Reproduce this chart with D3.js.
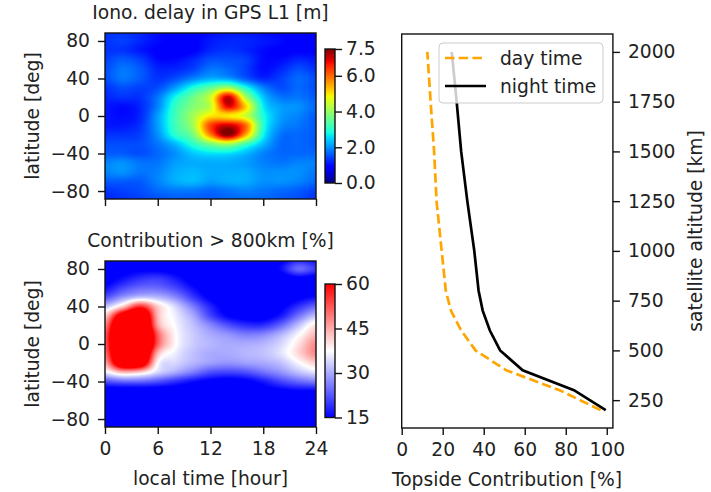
<!DOCTYPE html>
<html>
<head>
<meta charset="utf-8">
<script src="https://cdn.jsdelivr.net/npm/d3@7"></script>
<style>
  body { margin: 0; background: #ffffff; }
  svg text { font-family: "DejaVu Sans", sans-serif; fill: #222222; }
</style>
</head>
<body>
<svg id="fig" width="711" height="492"></svg>
<script>
// ---------------- data ----------------
const localTimeHours = [0, 2, 4, 6, 8, 10, 12, 14, 16, 18, 20, 22, 24];
const latitudeRows = [90, 80, 70, 60, 50, 40, 30, 20, 10, 0, -10, -20, -30, -40, -50, -60, -70, -80, -90];

// ionospheric delay in GPS L1 [m], rows follow latitudeRows, columns follow localTimeHours
const ionoDelay = [
  [1.3, 1.3, 1.2, 1.0, 0.9, 0.9, 1.0, 1.1, 1.1, 1.0, 0.9, 0.8, 0.8],
  [1.3, 1.4, 1.2, 1.0, 0.9, 0.9, 1.1, 1.2, 1.2, 1.1, 1.0, 0.8, 0.8],
  [1.3, 1.3, 1.1, 0.9, 0.8, 0.9, 1.2, 1.3, 1.2, 1.0, 0.9, 0.9, 0.9],
  [1.4, 1.6, 1.4, 1.0, 1.0, 1.2, 1.5, 1.5, 1.4, 1.0, 1.0, 1.2, 1.1],
  [1.5, 1.8, 1.6, 1.2, 1.2, 1.4, 1.8, 1.7, 1.4, 1.0, 1.2, 1.5, 1.3],
  [1.5, 1.8, 1.6, 1.3, 1.5, 1.9, 2.2, 2.1, 1.6, 1.2, 1.4, 1.7, 1.5],
  [1.3, 1.5, 1.4, 1.5, 2.1, 2.9, 3.5, 4.1, 2.9, 1.9, 1.5, 1.7, 1.5],
  [1.2, 1.3, 1.3, 1.8, 2.8, 3.6, 4.5, 7.0, 4.2, 2.4, 1.8, 1.8, 1.6],
  [1.1, 1.0, 1.2, 1.9, 3.1, 3.8, 4.4, 6.8, 5.2, 2.7, 2.1, 2.0, 1.7],
  [1.1, 1.0, 1.2, 2.1, 3.2, 4.1, 5.0, 5.0, 4.5, 2.9, 2.1, 1.9, 1.6],
  [1.1, 1.1, 1.3, 2.1, 3.2, 4.1, 6.3, 7.0, 6.0, 3.0, 2.0, 1.8, 1.6],
  [1.3, 1.3, 1.4, 2.0, 3.0, 3.7, 5.8, 7.5, 5.5, 2.8, 1.8, 1.7, 1.6],
  [1.5, 1.5, 1.5, 1.8, 2.3, 3.0, 3.7, 4.1, 3.2, 2.3, 1.7, 1.7, 1.6],
  [1.6, 1.6, 1.5, 1.7, 2.0, 2.4, 2.6, 2.6, 2.3, 1.9, 1.7, 1.7, 1.7],
  [1.9, 2.0, 1.8, 1.8, 2.1, 2.2, 2.2, 2.2, 2.1, 1.9, 1.8, 1.9, 1.9],
  [1.9, 2.0, 1.8, 1.9, 2.2, 2.3, 2.2, 2.2, 2.2, 2.0, 2.0, 2.0, 1.8],
  [1.6, 1.6, 1.6, 1.9, 2.2, 2.3, 2.1, 2.2, 2.2, 2.0, 2.0, 1.9, 1.7],
  [1.3, 1.4, 1.5, 1.7, 1.8, 1.8, 1.7, 1.8, 1.9, 1.8, 1.7, 1.6, 1.4],
  [1.2, 1.3, 1.4, 1.5, 1.6, 1.6, 1.6, 1.7, 1.7, 1.7, 1.6, 1.5, 1.3]
];

// share of the delay above 800 km [%], same grid
const topsideShare = [
  [12, 12, 12, 12, 12, 12, 12, 12, 12, 12, 14, 18, 16],
  [12, 13, 14, 14, 13, 12, 12, 12, 12, 12, 16, 24, 20],
  [13, 16, 19, 20, 17, 13, 12, 12, 12, 12, 12, 14, 13],
  [16, 21, 24, 24, 21, 16, 12, 12, 12, 12, 12, 12, 12],
  [22, 28, 32, 31, 27, 20, 14, 12, 12, 12, 12, 14, 16],
  [32, 42, 56, 42, 34, 26, 18, 13, 12, 12, 14, 19, 24],
  [42, 68, 78, 44, 36, 30, 21, 15, 13, 13, 17, 25, 32],
  [48, 82, 84, 46, 37, 32, 27, 22, 19, 19, 24, 32, 40],
  [52, 86, 88, 52, 38, 33, 30, 28, 26, 27, 31, 37, 44],
  [52, 86, 88, 52, 38, 33, 31, 30, 30, 31, 34, 40, 48],
  [50, 82, 82, 44, 36, 32, 30, 30, 31, 32, 35, 41, 48],
  [45, 74, 72, 38, 34, 31, 29, 28, 29, 30, 32, 37, 42],
  [36, 44, 42, 34, 30, 26, 22, 21, 22, 25, 28, 32, 35],
  [22, 24, 24, 22, 19, 16, 14, 13, 14, 17, 21, 24, 26],
  [12, 12, 12, 12, 12, 12, 12, 12, 12, 13, 14, 15, 15],
  [10, 10, 10, 10, 10, 10, 10, 10, 10, 10, 10, 10, 10],
  [10, 10, 10, 10, 10, 10, 10, 10, 10, 10, 10, 10, 10],
  [10, 10, 10, 10, 10, 10, 10, 10, 10, 10, 10, 10, 10],
  [10, 10, 10, 10, 10, 10, 10, 10, 10, 10, 10, 10, 10]
];

// topside contribution profiles
const altitudeKm = [200, 300, 400, 500, 600, 700, 800, 1000, 1250, 1500, 1750, 2000];
const dayTime    = [97, 77, 51, 36, 29, 24, 21.5, 19.5, 17, 15.8, 14.1, 12.5];
const nightTime  = [99.5, 84, 59, 48, 43, 39.5, 37.5, 35.4, 32, 29, 26.8, 24.4];

// tick values
const hourTicks = [0, 6, 12, 18, 24];
const latTicks = [80, 40, 0, -40, -80];
const delayTicks = [0, 2, 4, 6, 7.5];
const shareTicks = [15, 30, 45, 60];
const percentTicks = [0, 20, 40, 60, 80, 100];
const altitudeTicks = [250, 500, 750, 1000, 1250, 1500, 1750, 2000];

// ---------------- colour maps ----------------
function piecewise(pts, t) {
  for (let i = 1; i < pts.length; i++) {
    if (t <= pts[i][0]) {
      const [x0, y0] = pts[i - 1], [x1, y1] = pts[i];
      return y0 + (y1 - y0) * (t - x0) / (x1 - x0);
    }
  }
  return pts[pts.length - 1][1];
}
const jetR = [[0, 0], [0.35, 0], [0.66, 1], [0.89, 1], [1, 0.5]];
const jetG = [[0, 0], [0.125, 0], [0.375, 1], [0.64, 1], [0.91, 0], [1, 0]];
const jetB = [[0, 0.5], [0.11, 1], [0.34, 1], [0.65, 0], [1, 0]];
function jet(t) {
  t = Math.max(0, Math.min(1, t));
  return d3.rgb(255 * piecewise(jetR, t), 255 * piecewise(jetG, t), 255 * piecewise(jetB, t));
}
function bwr(t) {
  t = Math.max(0, Math.min(1, t));
  if (t < 0.5) return d3.rgb(510 * t, 510 * t, 255);
  return d3.rgb(255, 510 * (1 - t), 510 * (1 - t));
}

// ---------------- smooth grid sampling (bicubic) ----------------
function cubic(p0, p1, p2, p3, t) {
  return p1 + 0.5 * t * (p2 - p0 + t * (2 * p0 - 5 * p1 + 4 * p2 - p3 + t * (3 * (p1 - p2) + p3 - p0)));
}
function sampleGrid(grid, hour, lat) {
  const nr = grid.length, nc = grid[0].length;
  const c = (hour - localTimeHours[0]) / (localTimeHours[1] - localTimeHours[0]);
  const r = (latitudeRows[0] - lat) / (latitudeRows[0] - latitudeRows[1]);
  const ci = Math.min(nc - 2, Math.max(0, Math.floor(c))), ri = Math.min(nr - 2, Math.max(0, Math.floor(r)));
  const tc = c - ci, tr = r - ri;
  const cl = i => Math.max(0, Math.min(nc - 1, i));
  const rl = i => Math.max(0, Math.min(nr - 1, i));
  const rows = [];
  for (let k = -1; k <= 2; k++) {
    const row = grid[rl(ri + k)];
    rows.push(cubic(row[cl(ci - 1)], row[cl(ci)], row[cl(ci + 1)], row[cl(ci + 2)], tc));
  }
  return cubic(rows[0], rows[1], rows[2], rows[3], tr);
}

// ---------------- figure ----------------
const svg = d3.select("#fig");
const FS = 18.7;
const TICK = 7, PAD = 8;

function styleAxis(sel) {
  sel.select(".domain").remove();
  sel.selectAll(".tick line").attr("stroke", "#111").attr("stroke-width", 1.4);
  sel.selectAll(".tick text").attr("font-size", FS).attr("font-family", "DejaVu Sans, sans-serif").attr("fill", "#222");
}

function heatPanel(opts) {
  const { grid, x, y, color, title, titleY, cbar, cbarTicks, cbarFmt, xLabels } = opts;
  const [x0, x1] = x.range(), [y1, y0] = y.range();
  const w = Math.round(x1 - x0), h = Math.round(y1 - y0);
  const canvas = document.createElement("canvas");
  canvas.width = w; canvas.height = h;
  const ctx = canvas.getContext("2d");
  const img = ctx.createImageData(w, h);
  for (let j = 0; j < h; j++) {
    const lat = y.invert(y0 + j + 0.5);
    for (let i = 0; i < w; i++) {
      const hour = x.invert(x0 + i + 0.5);
      const c = color(sampleGrid(grid, hour, lat));
      const k = 4 * (j * w + i);
      img.data[k] = c.r; img.data[k + 1] = c.g; img.data[k + 2] = c.b; img.data[k + 3] = 255;
    }
  }
  ctx.putImageData(img, 0, 0);
  const g = svg.append("g");
  g.append("image")
    .attr("href", canvas.toDataURL())
    .attr("x", x0).attr("y", y0).attr("width", w).attr("height", h)
    .attr("preserveAspectRatio", "none");
  g.append("rect").attr("x", x0).attr("y", y0).attr("width", x1 - x0).attr("height", y1 - y0)
    .attr("fill", "none").attr("stroke", "#111").attr("stroke-width", 1.4);

  const yAxis = d3.axisLeft(y).tickValues(latTicks).tickSize(TICK).tickSizeOuter(0).tickPadding(PAD);
  g.append("g").attr("transform", `translate(${x0},0)`).call(yAxis).call(styleAxis);
  const xAxis = d3.axisBottom(x).tickValues(hourTicks).tickSize(TICK).tickSizeOuter(0).tickPadding(PAD);
  if (!xLabels) xAxis.tickFormat("");
  g.append("g").attr("transform", `translate(0,${y1})`).call(xAxis).call(styleAxis);

  g.append("text").attr("x", (x0 + x1) / 2).attr("y", titleY).attr("text-anchor", "middle")
    .attr("font-size", FS).text(title);
  g.append("text").attr("transform", `translate(39,${(y0 + y1) / 2}) rotate(-90)`)
    .attr("text-anchor", "middle").attr("font-size", FS).text("latitude [deg]");

  // colour bar
  const [cy1, cy0] = cbar.range();
  const gid = "grad" + Math.round(cy0);
  const grad = svg.append("defs").append("linearGradient").attr("id", gid)
    .attr("x1", 0).attr("y1", 1).attr("x2", 0).attr("y2", 0);
  const [d0, d1] = cbar.domain();
  d3.range(0, 1.0001, 1 / 60).forEach(t => {
    grad.append("stop").attr("offset", t).attr("stop-color", color(d0 + t * (d1 - d0)).formatHex());
  });
  g.append("rect").attr("x", 325).attr("y", cy0).attr("width", 10).attr("height", cy1 - cy0)
    .attr("fill", `url(#${gid})`).attr("stroke", "#111").attr("stroke-width", 1.4);
  const cAxis = d3.axisRight(cbar).tickValues(cbarTicks).tickFormat(cbarFmt).tickSize(TICK).tickSizeOuter(0).tickPadding(4);
  g.append("g").attr("transform", "translate(335,0)").call(cAxis).call(styleAxis);
}

// ionospheric delay map
const xTop = d3.scaleLinear().domain([0, 24]).range([105, 316]);
const yTop = d3.scaleLinear().domain([-88.5, 88.5]).range([199, 33]);
const delayScale = d3.scaleLinear().domain([0, 7.5]);
heatPanel({
  grid: ionoDelay, x: xTop, y: yTop,
  color: v => jet(delayScale(v)),
  title: "Iono. delay in GPS L1 [m]", titleY: 19,
  cbar: d3.scaleLinear().domain([0, 7.5]).range([183, 49]),
  cbarTicks: delayTicks, cbarFmt: d3.format(".1f"), xLabels: false
});

// topside share map
const xBot = d3.scaleLinear().domain([0, 24]).range([105, 316]);
const yBot = d3.scaleLinear().domain([-88.5, 88.5]).range([427, 261]);
const shareScale = d3.scaleLinear().domain([15, 60]);
heatPanel({
  grid: topsideShare, x: xBot, y: yBot,
  color: v => bwr(shareScale(v)),
  title: "Contribution > 800km [%]", titleY: 247,
  cbar: d3.scaleLinear().domain([15, 60]).range([417.5, 284]),
  cbarTicks: shareTicks, cbarFmt: d3.format("d"), xLabels: true
});
svg.append("text").attr("x", 210.5).attr("y", 485).attr("text-anchor", "middle")
  .attr("font-size", FS).text("local time [hour]");

// ---------------- altitude profiles ----------------
const xR = d3.scaleLinear().domain([0, 103]).range([401.7, 612.9]);
const yR = d3.scaleLinear().domain([110, 2090]).range([428, 34]);
const gr = svg.append("g");
const line = d3.line().x(d => xR(d[0])).y(d => yR(d[1]));

gr.append("path").datum(dayTime.map((v, i) => [v, altitudeKm[i]]))
  .attr("d", line).attr("fill", "none").attr("stroke", "#ffa500")
  .attr("stroke-width", 2.7).attr("stroke-dasharray", "9.5,4.2");
gr.append("path").datum(nightTime.map((v, i) => [v, altitudeKm[i]]))
  .attr("d", line).attr("fill", "none").attr("stroke", "#000")
  .attr("stroke-width", 2.7);

gr.append("rect").attr("x", 401.7).attr("y", 34).attr("width", 612.9 - 401.7).attr("height", 428 - 34)
  .attr("fill", "none").attr("stroke", "#111").attr("stroke-width", 1.4);
gr.append("g").attr("transform", "translate(0,428)")
  .call(d3.axisBottom(xR).tickValues(percentTicks).tickSize(TICK).tickSizeOuter(0).tickPadding(PAD))
  .call(styleAxis);
gr.append("g").attr("transform", "translate(612.9,0)")
  .call(d3.axisRight(yR).tickValues(altitudeTicks).tickFormat(d3.format("d")).tickSize(TICK).tickSizeOuter(0).tickPadding(PAD))
  .call(styleAxis);
gr.append("text").attr("x", 507).attr("y", 486).attr("text-anchor", "middle")
  .attr("font-size", FS).text("Topside Contribution [%]");
gr.append("text").attr("transform", `translate(702,231) rotate(-90)`)
  .attr("text-anchor", "middle").attr("font-size", FS).text("satellite altitude [km]");

// legend
const lg = gr.append("g");
lg.append("rect").attr("x", 439).attr("y", 43).attr("width", 164).attr("height", 60).attr("rx", 4)
  .attr("fill", "#fff").attr("fill-opacity", 0.8).attr("stroke", "#cccccc").attr("stroke-width", 1);
const entries = [
  { name: "day time", color: "#ffa500", dash: "9.5,4.2", y: 58 },
  { name: "night time", color: "#000", dash: null, y: 86 }
];
entries.forEach(e => {
  lg.append("line").attr("x1", 445).attr("x2", 486).attr("y1", e.y).attr("y2", e.y)
    .attr("stroke", e.color).attr("stroke-width", 2.7).attr("stroke-dasharray", e.dash);
  lg.append("text").attr("x", 500).attr("y", e.y + 7).attr("font-size", FS).text(e.name);
});
</script>
</body>
</html>
